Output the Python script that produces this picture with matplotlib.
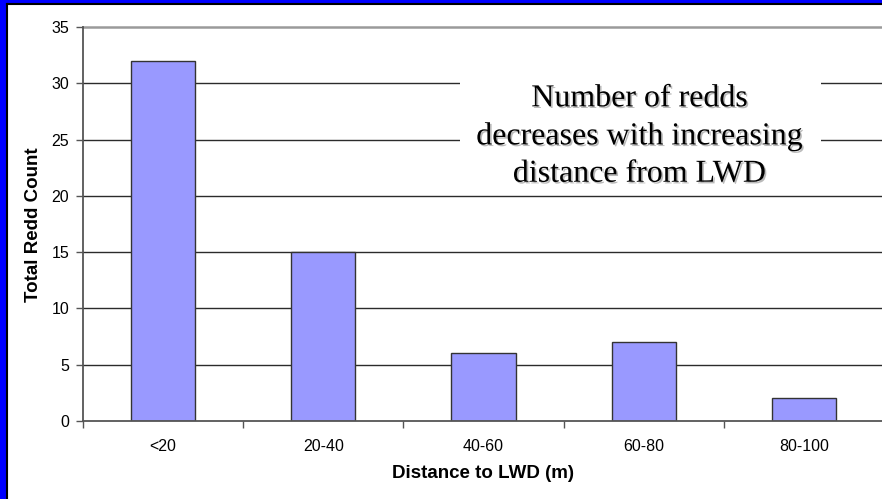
import numpy as np
import matplotlib
matplotlib.use('Agg')
import matplotlib.pyplot as plt
import matplotlib.patheffects as pe
from matplotlib.patches import Rectangle

# 数据
categories = ['<20', '20-40', '40-60', '60-80', '80-100']
redd_counts = [32, 15, 6, 7, 2]
y_ticks = [0, 5, 10, 15, 20, 25, 30, 35]

bar_color = '#9999FF'
grid_color = '#2b2b2b'

fig = plt.figure(figsize=(8.82, 4.99), dpi=100)
ax = fig.add_axes([0.0941, 0.1563, 0.9082, 0.7896])

x = np.arange(len(categories))
ax.bar(x, redd_counts, width=0.4, color=bar_color, edgecolor='#333333',
       linewidth=1.0, zorder=3)

ax.set_xlim(-0.5, len(categories) - 0.5)
ax.set_ylim(0, 35)

# 网格线
for yv in y_ticks[1:-1]:
    ax.axhline(yv, color=grid_color, linewidth=1.0, zorder=1)
ax.axhline(35, color='#9a9a9a', linewidth=1.8, zorder=1, clip_on=False)

# 坐标轴
for s in ['top', 'right']:
    ax.spines[s].set_visible(False)
for s in ['left', 'bottom']:
    ax.spines[s].set_color('#555555')
    ax.spines[s].set_linewidth(1.3)
    ax.spines[s].set_zorder(4)

ax.set_yticks(y_ticks)
ax.set_xticks(x)
ax.set_xticklabels(categories)
ax.set_xticks(np.arange(len(categories) + 1) - 0.5, minor=True)
ax.tick_params(axis='x', which='major', length=0, pad=13, labelsize=11.5)
ax.tick_params(axis='x', which='minor', length=5, width=1, color='#555555')
ax.tick_params(axis='y', length=5, width=1, color='#555555', pad=5, labelsize=11.5)
for lbl in ax.get_xticklabels() + ax.get_yticklabels():
    lbl.set_fontfamily('Liberation Sans')

fig.text(0.0385, 0.549, 'Total Redd Count', rotation=90, ha='center', va='center',
         fontsize=13.5, fontweight='bold', family='Liberation Sans')
fig.text(0.548, 0.052, 'Distance to LWD (m)', ha='center', va='center',
         fontsize=13.5, fontweight='bold', family='Liberation Sans')

# 注释文本框
ax.add_patch(Rectangle((0.4705, 0.586), 0.4505, 0.356, transform=ax.transAxes,
                       facecolor='white', edgecolor='none', zorder=2))
ax.text(0.695, 0.722, 'Number of redds\ndecreases with increasing\ndistance from LWD',
        transform=ax.transAxes, ha='center', va='center', fontsize=23,
        family='Liberation Serif', linespacing=1.38, zorder=5,
        path_effects=[pe.withSimplePatchShadow(offset=(1.2, -1.2), shadow_rgbFace='#777777',
                                               alpha=0.5)])

# 蓝色边框
fig.patches.append(Rectangle((0, 0), 0.0068, 1, transform=fig.transFigure,
                             facecolor='#0000FF', edgecolor='none', zorder=10))
fig.patches.append(Rectangle((0, 0.9932), 1, 0.0068, transform=fig.transFigure,
                             facecolor='#0000FF', edgecolor='none', zorder=10))
fig.lines.append(plt.Line2D([0.0079, 0.0079], [0, 0.992], transform=fig.transFigure,
                            color='black', linewidth=1.5, zorder=11))
fig.lines.append(plt.Line2D([0.0079, 1], [0.992, 0.992], transform=fig.transFigure,
                            color='black', linewidth=1.5, zorder=11))

fig.savefig('out.png', dpi=100, facecolor='white')
